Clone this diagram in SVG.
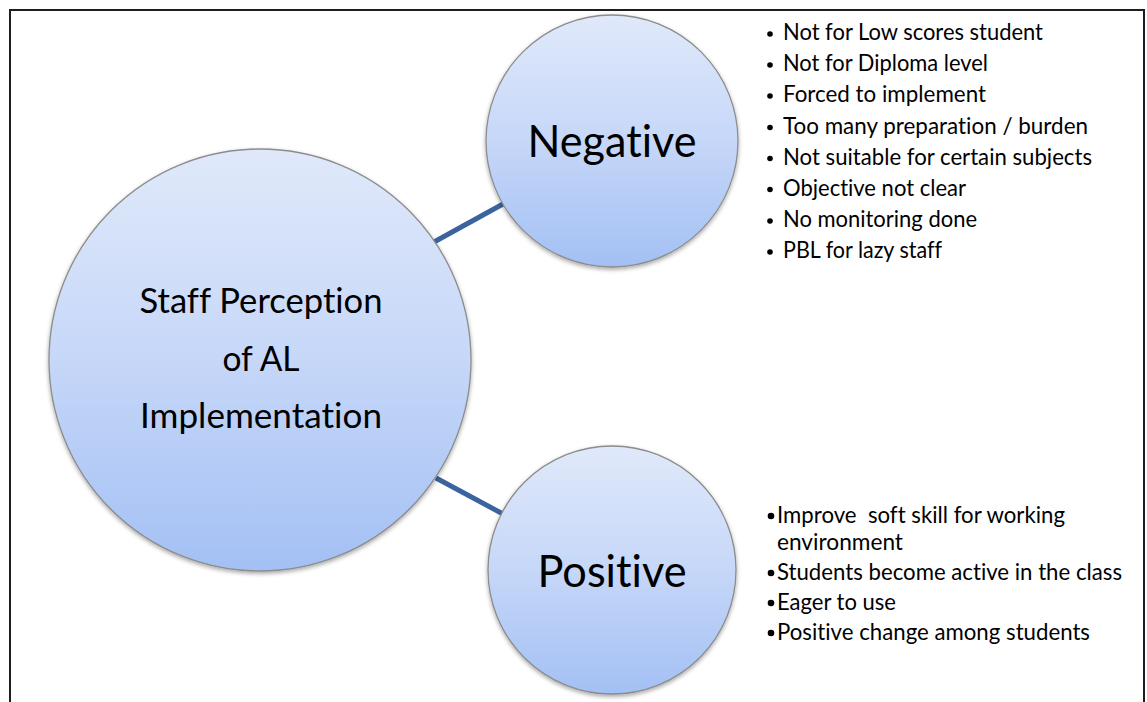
<svg xmlns="http://www.w3.org/2000/svg" width="1147" height="702" viewBox="0 0 1147 702">
  <defs>
    <linearGradient id="fill" x1="0" y1="0" x2="0" y2="1">
      <stop offset="0" stop-color="#e0e9fa"/>
      <stop offset="0.5" stop-color="#c6d7f8"/>
      <stop offset="1" stop-color="#a3c0f4"/>
    </linearGradient>
    <filter id="shadow" x="-10%" y="-10%" width="120%" height="125%">
      <feDropShadow dx="0" dy="2" stdDeviation="2" flood-color="#000" flood-opacity="0.35"/>
    </filter>
    <style>
      .node { fill: url(#fill); stroke: #8c8c8c; stroke-width: 1.3; filter: url(#shadow); }
      .conn { stroke: #3b649f; stroke-width: 5; fill: none; }
      text { font-variant-ligatures: none; font-feature-settings: "liga" 0, "clig" 0, "dlig" 0; white-space: pre; }
      .lbl { font-family: Lato, "Liberation Sans", sans-serif; fill: #000; text-anchor: middle; }
      .item { font-family: Lato, "Liberation Sans", sans-serif; font-size: 22.5px; fill: #000; }
      .dot { fill: #000; }
    </style>
  </defs>
  <rect x="0" y="0" width="1147" height="702" fill="#fff"/>
  <rect x="10" y="10" width="1134" height="710" fill="none" stroke="#1e1e1e" stroke-width="2"/>

  <g id="connectors">
    <line class="conn" x1="434" y1="242" x2="503" y2="204"/>
    <line class="conn" x1="436" y1="478" x2="503" y2="514"/>
  </g>

  <g id="node-center">
    <circle class="node" cx="260" cy="360" r="211"/>
    <text class="lbl" font-size="35" x="261" y="313" textLength="243" lengthAdjust="spacingAndGlyphs">Staff Perception</text>
    <text class="lbl" font-size="35" x="261" y="371" textLength="77" lengthAdjust="spacingAndGlyphs">of AL</text>
    <text class="lbl" font-size="35" x="261" y="428" textLength="242" lengthAdjust="spacingAndGlyphs">Implementation</text>
  </g>

  <g id="node-negative">
    <circle class="node" cx="612" cy="141" r="126"/>
    <text class="lbl" font-size="45" x="612" y="157" textLength="169" lengthAdjust="spacingAndGlyphs">Negative</text>
  </g>

  <g id="node-positive">
    <circle class="node" cx="612" cy="570" r="124"/>
    <text class="lbl" font-size="45" x="612" y="587" textLength="149" lengthAdjust="spacingAndGlyphs">Positive</text>
  </g>

  <g id="negative-list">
    <circle class="dot" cx="770" cy="34" r="2.8"/>
    <text class="item" x="783" y="40" textLength="260" lengthAdjust="spacingAndGlyphs">Not for Low scores student</text>
    <circle class="dot" cx="770" cy="65" r="2.8"/>
    <text class="item" x="783" y="71" textLength="205" lengthAdjust="spacingAndGlyphs">Not for Diploma level</text>
    <circle class="dot" cx="770" cy="96" r="2.8"/>
    <text class="item" x="783" y="102" textLength="203" lengthAdjust="spacingAndGlyphs">Forced to implement</text>
    <circle class="dot" cx="770" cy="127.5" r="2.8"/>
    <text class="item" x="783" y="133.5" textLength="305" lengthAdjust="spacingAndGlyphs">Too many preparation / burden</text>
    <circle class="dot" cx="770" cy="158.5" r="2.8"/>
    <text class="item" x="783" y="164.5" textLength="309" lengthAdjust="spacingAndGlyphs">Not suitable for certain subjects</text>
    <circle class="dot" cx="770" cy="189.5" r="2.8"/>
    <text class="item" x="783" y="195.5" textLength="183" lengthAdjust="spacingAndGlyphs">Objective not clear</text>
    <circle class="dot" cx="770" cy="221" r="2.8"/>
    <text class="item" x="783" y="227" textLength="194" lengthAdjust="spacingAndGlyphs">No monitoring done</text>
    <circle class="dot" cx="770" cy="252" r="2.8"/>
    <text class="item" x="783" y="258" textLength="159" lengthAdjust="spacingAndGlyphs">PBL for lazy staff</text>
  </g>

  <g id="positive-list">
    <circle class="dot" cx="771" cy="516" r="3.3"/>
    <text class="item" x="777" y="523" textLength="288" lengthAdjust="spacingAndGlyphs">Improve  soft skill for working</text>
    <text class="item" x="777" y="550" textLength="126" lengthAdjust="spacingAndGlyphs">environment</text>
    <circle class="dot" cx="771" cy="573" r="3.3"/>
    <text class="item" x="777" y="580" textLength="345" lengthAdjust="spacingAndGlyphs">Students become active in the class</text>
    <circle class="dot" cx="771" cy="603" r="3.3"/>
    <text class="item" x="777" y="610" textLength="119" lengthAdjust="spacingAndGlyphs">Eager to use</text>
    <circle class="dot" cx="771" cy="633" r="3.3"/>
    <text class="item" x="777" y="640" textLength="313" lengthAdjust="spacingAndGlyphs">Positive change among students</text>
  </g>
</svg>
